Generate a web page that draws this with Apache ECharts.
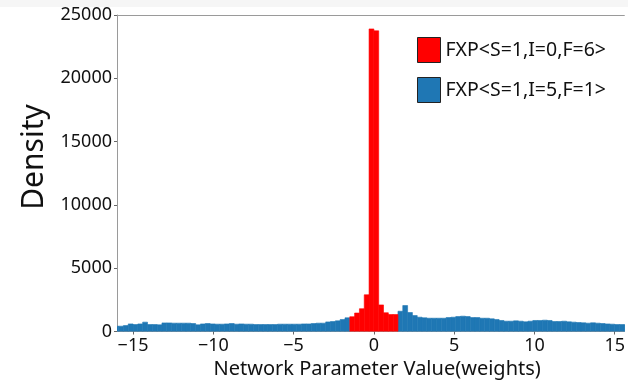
<!DOCTYPE html>
<html>
<head>
<meta charset="utf-8">
<script src="https://cdn.jsdelivr.net/npm/echarts@6/dist/echarts.min.js"></script>
<style>
html,body{margin:0;padding:0;background:#fff;}
#chart{width:628px;height:386px;}
</style>
</head>
<body>
<div id="chart"></div>
<script>
// ---- data ----
const binWidth = 0.3;
const seriesNames = ['FXP<S=1,I=0,F=6>', 'FXP<S=1,I=5,F=1>'];
const xTickValues = [-15, -10, -5, 0, 5, 10, 15];
const yTickValues = [0, 5000, 10000, 15000, 20000, 25000];

// red histogram (FXP<S=1,I=0,F=6>), bins of 0.3 starting at -1.5
const redStart = -1.5;
const redValues = [1170, 1460, 1800, 2900, 23900, 23750, 2100, 1480, 1340, 1340];

// blue histogram (FXP<S=1,I=5,F=1>), left part starting at -16.2
const blueLeftStart = -16.2;
const blueLeftValues = [
  420, 420, 470, 600, 550, 600, 740, 550, 550, 525,
  680, 680, 660, 660, 660, 660, 630, 525, 600, 630,
  600, 580, 580, 600, 630, 580, 600, 580, 580, 550,
  550, 550, 550, 550, 580, 580, 580, 580, 580, 600,
  600, 630, 660, 660, 760, 790, 840, 950, 1080
];
// blue histogram, right part starting at 1.5
const blueRightStart = 1.5;
const blueRightValues = [
  1600, 2050, 1500, 1260, 1130, 1080, 1050, 1050, 1050, 1050,
  1100, 1130, 1180, 1210, 1180, 1100, 1100, 1050, 1050, 1000,
  950, 870, 815, 815, 840, 815, 765, 815, 870, 870,
  895, 870, 790, 790, 815, 765, 740, 710, 685, 660,
  685, 660, 630, 600, 580, 550, 550, 525, 525
];

function toBins(start, values) {
  return values.map((v, i) => [start + i * binWidth, start + (i + 1) * binWidth, v]);
}
const redData = toBins(redStart, redValues);
const blueData = toBins(blueLeftStart, blueLeftValues).concat(toBins(blueRightStart, blueRightValues));

function renderBin(params, api) {
  const p0 = api.coord([api.value(0), api.value(2)]);
  const p1 = api.coord([api.value(1), 0]);
  const color = api.visual('color');
  return {
    type: 'rect',
    shape: { x: p0[0], y: p0[1], width: p1[0] - p0[0], height: p1[1] - p0[1] },
    style: { fill: color, stroke: color, lineWidth: 0.6 }
  };
}

const FONT = '"Noto Sans", "Open Sans", sans-serif';
const chart = echarts.init(document.getElementById('chart'), null, { renderer: 'canvas' });
chart.setOption({
  animation: false,
  backgroundColor: '#fff',
  grid: { left: 117, top: 15, right: 0, height: 316.5 },
  graphic: [
    { type: 'rect', left: 0, top: 0, shape: { width: 628, height: 7 }, style: { fill: '#f6f6f6' }, silent: true },
    {
      type: 'text', x: 34, y: 157, rotation: Math.PI / 2,
      style: { text: 'Density', font: '30px ' + FONT, fill: '#111', textAlign: 'center', textVerticalAlign: 'middle' }
    }
  ],
  legend: {
    orient: 'vertical', left: 417, top: 37, padding: 0,
    itemWidth: 23, itemHeight: 25, itemGap: 14,
    icon: 'rect',
    itemStyle: { borderColor: '#222', borderWidth: 1 },
    textStyle: { fontSize: 19.5, fontFamily: FONT, color: '#111' },
    data: seriesNames
  },
  xAxis: [{
    type: 'value', min: -16, max: 15.6,
    name: 'Network Parameter Value(weights)', nameLocation: 'middle', nameGap: 23,
    nameTextStyle: { fontSize: 20, fontFamily: FONT, color: '#111', padding: [0, 0, 0, 13] },
    axisLine: { show: true, onZero: false, lineStyle: { color: '#9a9a9a' } },
    axisTick: { show: true, length: 3, lineStyle: { color: '#666' }, customValues: xTickValues },
    axisLabel: {
      fontSize: 18, fontFamily: FONT, color: '#111', margin: 5,
      customValues: xTickValues,
      formatter: v => (v < 0 ? '\u2212' + Math.abs(v) : String(v))
    },
    splitLine: { show: false }
  }, {
    type: 'value', position: 'top', min: -16, max: 15.6,
    axisLine: { show: true, onZero: false, lineStyle: { color: '#9a9a9a' } },
    axisTick: { show: false }, axisLabel: { show: false }, splitLine: { show: false }
  }],
  yAxis: {
    type: 'value', min: 0, max: 25000, interval: 5000,
    axisLine: { show: true, onZero: false, lineStyle: { color: '#9a9a9a' } },
    axisTick: { show: true, length: 3, lineStyle: { color: '#666' }, customValues: yTickValues },
    axisLabel: {
      fontSize: 18, fontFamily: FONT, color: '#111', margin: 5,
      customValues: yTickValues,
      formatter: v => String(v)
    },
    splitLine: { show: false }
  },
  series: [
    {
      name: seriesNames[1], type: 'custom', renderItem: renderBin, clip: true,
      itemStyle: { color: '#1f77b4' },
      encode: { x: [0, 1], y: 2 },
      data: blueData
    },
    {
      name: seriesNames[0], type: 'custom', renderItem: renderBin, clip: true,
      itemStyle: { color: '#ff0000' },
      encode: { x: [0, 1], y: 2 },
      data: redData
    }
  ]
});
</script>
</body>
</html>
